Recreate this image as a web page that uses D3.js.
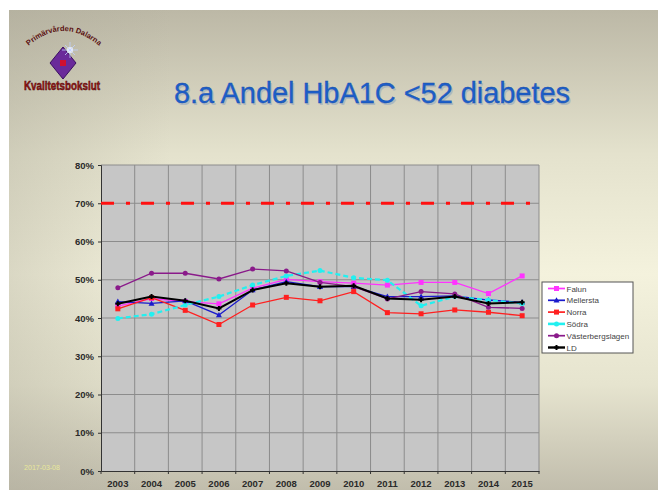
<!DOCTYPE html>
<html>
<head>
<meta charset="utf-8">
<script src="https://cdn.jsdelivr.net/npm/d3@7"></script>
<style>
  html, body { margin: 0; padding: 0; background: #fff; }
  #chart { width: 658px; height: 490px; }
  text { font-family: "Liberation Sans", Arial, sans-serif; }
</style>
</head>
<body>
<div id="chart"></div>
<script>
// Chart data (percent)
const years = ["2003", "2004", "2005", "2006", "2007", "2008", "2009", "2010", "2011", "2012", "2013", "2014", "2015"];
const falun = [43.1, 45.1, 44.3, 43.7, 47.8, 50.1, 49.5, 49.1, 48.6, 49.3, 49.3, 46.4, 51.0];
const mellersta = [44.3, 43.8, 44.5, 40.8, 47.3, 49.5, 48.2, 48.2, 45.6, 45.6, 45.8, 44.7, 44.1];
const norra = [42.4, 45.3, 42.0, 38.3, 43.4, 45.4, 44.5, 46.9, 41.4, 41.1, 42.1, 41.5, 40.6];
const sodra = [39.9, 41.0, 43.4, 45.6, 48.6, 51.0, 52.4, 50.5, 49.9, 43.2, 45.6, 44.7, 43.8];
const vasterbergslagen = [47.9, 51.7, 51.7, 50.2, 52.8, 52.3, 49.3, 48.2, 45.0, 46.9, 46.3, 42.8, 42.5];
const ld = [43.7, 45.6, 44.5, 42.5, 47.3, 49.1, 48.2, 48.4, 45.1, 44.8, 45.6, 43.8, 44.1];
const target = 70;
const yTicks = [0, 10, 20, 30, 40, 50, 60, 70, 80];

const series = [
    { name: "Falun", values: falun, color: "#ff33ff", marker: "square", width: 1.3 },
    { name: "Mellersta", values: mellersta, color: "#1a1acc", marker: "triangle", width: 1.3 },
    { name: "Norra", values: norra, color: "#ff2020", marker: "square", width: 1.3 },
    { name: "Södra", values: sodra, color: "#22f0f0", marker: "circle", width: 2.2, dash: "5,3" },
    { name: "Västerbergslagen", values: vasterbergslagen, color: "#8a1a8a", marker: "circle", width: 1.3 },
    { name: "LD", values: ld, color: "#000000", marker: "plus", width: 2 }
];

const W = 658, H = 490;
const svg = d3.select("#chart").append("svg")
    .attr("width", W)
    .attr("height", H);

// Slide background
const defs = svg.append("defs");
const bg = defs.append("linearGradient")
    .attr("id", "bg")
    .attr("x1", 0).attr("y1", 0).attr("x2", 0).attr("y2", 1);
bg.append("stop").attr("offset", "0%").attr("stop-color", "#bcb8a6");
bg.append("stop").attr("offset", "30%").attr("stop-color", "#e4e2cd");
bg.append("stop").attr("offset", "55%").attr("stop-color", "#f4f2dd");
bg.append("stop").attr("offset", "78%").attr("stop-color", "#e6e4cf");
bg.append("stop").attr("offset", "100%").attr("stop-color", "#c1bdac");

const side = defs.append("linearGradient")
    .attr("id", "side")
    .attr("x1", 0).attr("y1", 0).attr("x2", 1).attr("y2", 0);
side.append("stop").attr("offset", "0%").attr("stop-color", "#a9a695").attr("stop-opacity", 0.35);
side.append("stop").attr("offset", "25%").attr("stop-color", "#a9a695").attr("stop-opacity", 0);
side.append("stop").attr("offset", "100%").attr("stop-color", "#a9a695").attr("stop-opacity", 0);

svg.append("rect")
    .attr("x", 9).attr("y", 10)
    .attr("width", W - 9).attr("height", H - 10)
    .attr("fill", "url(#bg)");
svg.append("rect")
    .attr("x", 9).attr("y", 10)
    .attr("width", W - 9).attr("height", H - 10)
    .attr("fill", "url(#side)");

// Logo
const logo = svg.append("g");
defs.append("path")
    .attr("id", "arc")
    .attr("d", "M 20,54 Q 63,8 108,54");
logo.append("text")
    .attr("font-size", 7.5)
    .attr("fill", "#5a1010")
    .attr("font-weight", "bold")
    .append("textPath")
    .attr("href", "#arc")
    .attr("startOffset", "50%")
    .attr("text-anchor", "middle")
    .text("Primärvården Dalarna");
logo.append("path")
    .attr("d", "M 63,47 L 76,63 L 63,79 L 50,63 Z")
    .attr("fill", "#6a2a9a")
    .attr("stroke", "#3a1060")
    .attr("stroke-width", 1);
logo.append("rect")
    .attr("x", 60).attr("y", 60).attr("width", 6).attr("height", 6)
    .attr("fill", "#d01030");
logo.append("circle")
    .attr("cx", 70).attr("cy", 50).attr("r", 3)
    .attr("fill", "#ffffff").attr("opacity", 0.9);
logo.append("path")
    .attr("d", "M 70,42 L 70,58 M 62,50 L 78,50 M 65,45 L 75,55 M 75,45 L 65,55")
    .attr("stroke", "#c0d0ff").attr("stroke-width", 0.8);
logo.append("text")
    .attr("x", 62).attr("y", 90)
    .attr("text-anchor", "middle")
    .attr("font-size", 13)
    .attr("font-weight", "bold")
    .attr("textLength", 76)
    .attr("lengthAdjust", "spacingAndGlyphs")
    .attr("fill", "#9a1414")
    .attr("stroke", "#4a0808")
    .attr("stroke-width", 0.5)
    .text("Kvalitetsbokslut");

// Title
const title = "8.a Andel HbA1C <52 diabetes";
svg.append("text")
    .attr("x", 372).attr("y", 103)
    .attr("text-anchor", "middle")
    .attr("font-size", 29)
    .attr("textLength", 396)
    .attr("fill", "#8aa0c0")
    .attr("opacity", 0.5)
    .attr("transform", "translate(1.5,1.5)")
    .text(title);
svg.append("text")
    .attr("x", 372).attr("y", 103)
    .attr("text-anchor", "middle")
    .attr("font-size", 29)
    .attr("textLength", 396)
    .attr("fill", "#1d5ec8")
    .attr("stroke", "#1a4fa8")
    .attr("stroke-width", 0.3)
    .text(title);

// Date footer
svg.append("text")
    .attr("x", 42).attr("y", 470)
    .attr("text-anchor", "middle")
    .attr("font-size", 7)
    .attr("fill", "#e8e89a")
    .text("2017-03-08");

// Plot area
const margin = { left: 101, top: 165, right: 539, bottom: 471 };
const x = d3.scaleBand()
    .domain(years)
    .range([margin.left, margin.right]);
const y = d3.scaleLinear()
    .domain([0, 80])
    .range([margin.bottom, margin.top]);

svg.append("rect")
    .attr("x", margin.left).attr("y", margin.top)
    .attr("width", margin.right - margin.left)
    .attr("height", margin.bottom - margin.top)
    .attr("fill", "#c6c6c6");

// Gridlines
svg.append("g")
    .selectAll("line")
    .data(yTicks.filter(d => d > 0))
    .join("line")
    .attr("x1", margin.left).attr("x2", margin.right)
    .attr("y1", d => y(d)).attr("y2", d => y(d))
    .attr("stroke", "#8c8c8c").attr("stroke-width", 1);

svg.append("g")
    .selectAll("line")
    .data(d3.range(1, years.length + 1))
    .join("line")
    .attr("x1", d => margin.left + x.step() * d)
    .attr("x2", d => margin.left + x.step() * d)
    .attr("y1", margin.top).attr("y2", margin.bottom)
    .attr("stroke", "#8c8c8c").attr("stroke-width", 1);

// Axes
const yAxis = svg.append("g")
    .attr("transform", `translate(${margin.left},0)`)
    .call(d3.axisLeft(y).tickValues(yTicks).tickSize(3).tickPadding(4).tickFormat(d => d + "%"));
yAxis.select(".domain").attr("stroke", "#333");
yAxis.selectAll(".tick line").attr("stroke", "#333");
yAxis.selectAll("text")
    .attr("font-size", 9.5)
    .attr("font-weight", "bold")
    .attr("fill", "#2a2a2a")
    .attr("font-family", "'Liberation Sans', Arial, sans-serif");

const xAxis = svg.append("g")
    .attr("transform", `translate(0,${margin.bottom})`)
    .call(d3.axisBottom(x).tickSize(0).tickPadding(9));
xAxis.select(".domain").attr("stroke", "#333");
xAxis.selectAll("text")
    .attr("font-size", 9.5)
    .attr("font-weight", "bold")
    .attr("fill", "#2a2a2a")
    .attr("font-family", "'Liberation Sans', Arial, sans-serif");
// category boundary ticks
svg.append("g")
    .selectAll("line")
    .data(d3.range(years.length + 1))
    .join("line")
    .attr("x1", d => margin.left + x.step() * d)
    .attr("x2", d => margin.left + x.step() * d)
    .attr("y1", margin.bottom).attr("y2", margin.bottom + 3)
    .attr("stroke", "#333");

// Target line 70%
svg.append("line")
    .attr("x1", margin.left).attr("x2", margin.right)
    .attr("y1", y(target)).attr("y2", y(target))
    .attr("stroke", "#ff1010")
    .attr("stroke-width", 3.2)
    .attr("stroke-dasharray", "13,12,4,11");

// Series
const cx = d => x(d) + x.bandwidth() / 2;
const line = d3.line()
    .x((d, i) => cx(years[i]))
    .y(d => y(d));

function drawMarker(g, type, color, px, py, s) {
    if (type === "square") {
        g.append("rect")
            .attr("x", px - s / 2).attr("y", py - s / 2)
            .attr("width", s).attr("height", s)
            .attr("fill", color);
    } else if (type === "triangle") {
        g.append("path")
            .attr("d", `M ${px},${py - s * 0.6} L ${px + s * 0.6},${py + s * 0.45} L ${px - s * 0.6},${py + s * 0.45} Z`)
            .attr("fill", color);
    } else if (type === "circle") {
        g.append("circle")
            .attr("cx", px).attr("cy", py).attr("r", s / 2)
            .attr("fill", color);
    } else if (type === "plus") {
        g.append("path")
            .attr("d", `M ${px - s / 2},${py} L ${px + s / 2},${py} M ${px},${py - s / 2} L ${px},${py + s / 2}`)
            .attr("stroke", color).attr("stroke-width", 2);
    }
}

series.forEach(s => {
    const g = svg.append("g");
    g.append("path")
        .datum(s.values)
        .attr("d", line)
        .attr("fill", "none")
        .attr("stroke", s.color)
        .attr("stroke-width", s.width)
        .attr("stroke-dasharray", s.dash || null);
    s.values.forEach((v, i) => drawMarker(g, s.marker, s.color, cx(years[i]), y(v), 5));
});

// Legend
const legend = svg.append("g").attr("transform", "translate(542,282)");
legend.append("rect")
    .attr("width", 91).attr("height", 71)
    .attr("fill", "#ffffff")
    .attr("stroke", "#555").attr("stroke-width", 1);
series.forEach((s, i) => {
    const ly = 6.5 + i * 11.8;
    legend.append("line")
        .attr("x1", 6).attr("x2", 23)
        .attr("y1", ly).attr("y2", ly)
        .attr("stroke", s.color)
        .attr("stroke-width", s.width + 0.4);
    drawMarker(legend, s.marker, s.color, 14.5, ly, 5);
    legend.append("text")
        .attr("x", 24.5).attr("y", ly + 3)
        .attr("font-size", 8)
        .attr("fill", "#444")
        .text(s.name);
});
</script>
</body>
</html>
